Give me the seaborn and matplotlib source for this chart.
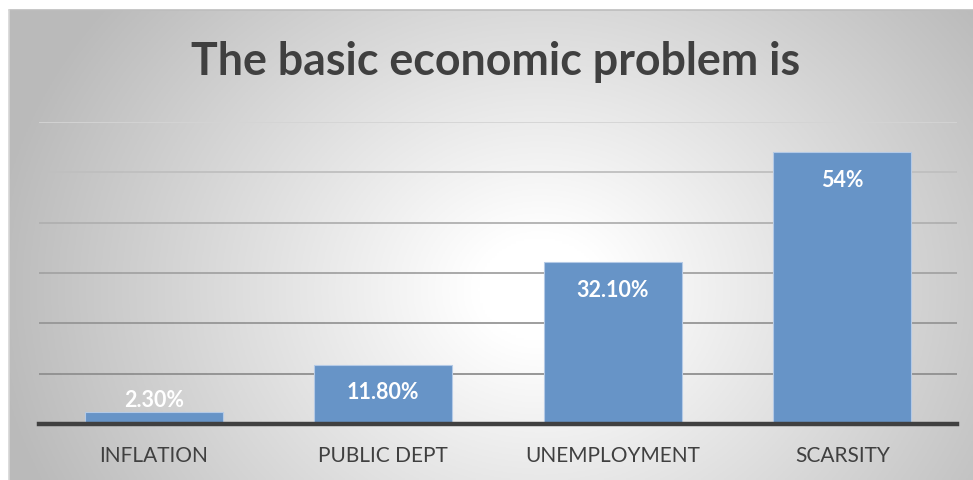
import numpy as np
import pandas as pd
import matplotlib
matplotlib.use("Agg")
import matplotlib.pyplot as plt
import seaborn as sns

categories = ["INFLATION", "PUBLIC DEPT", "UNEMPLOYMENT", "SCARSITY"]
values = [2.3, 11.8, 32.1, 54.0]
value_labels = ["2.30%", "11.80%", "32.10%", "54%"]
title = "The basic economic problem is"

sns.set_theme(style="white")
plt.rcParams['font.family'] = ['Lato', 'DejaVu Sans']

W, H = 973, 480
fig = plt.figure(figsize=(W / 100, H / 100), dpi=100)
fig.patch.set_facecolor("white")

# chart area background with radial gradient
x0 = 9
y0 = 10
bg = fig.add_axes([x0 / W, 0, 1 - x0 / W, (H - y0) / H])
bx = np.linspace(x0, W, 400)
by = np.linspace(y0, H, 200)
X, Y = np.meshgrid(bx, by)
t = np.sqrt(((X - 540) / 520) ** 2 + ((Y - 290) / 440) ** 2)
g = 255 - 62 * np.clip((t - 0.12) / 0.85, 0, 1.1)
img = np.dstack([g, g, g]) / 255.0
bg.imshow(img, extent=[0, 1, 0, 1], aspect="auto", origin="upper")
bg.set_xlim(0, 1)
bg.set_ylim(0, 1)
bg.axis("off")
# border on top/left
bg.plot([0, 1], [1, 1], color="#bdbdbd", lw=1.2, transform=bg.transAxes, clip_on=False)
bg.plot([0, 0], [0, 1], color="#d6d6d6", lw=1.2, transform=bg.transAxes, clip_on=False)

ax = fig.add_axes([39 / W, (H - 424) / H, (957 - 39) / W, (424 - 122) / H])
ax.patch.set_alpha(0)
df = pd.DataFrame({"cat": categories, "val": values})
sns.barplot(data=df, x="cat", y="val", color="#6794C7", saturation=1, width=0.6,
            edgecolor="#b4cae6", linewidth=0.8, ax=ax, zorder=3)
ax.set_ylim(0, 60)
ax.set_yticks([10, 20, 30, 40, 50, 60])
ax.set_yticklabels([])
ax.tick_params(axis="y", length=0)
ax.grid(axis="y", lw=1.3, zorder=0)
gl_colors = ["#8f8f8f", "#969696", "#a3a3a3", "#b0b0b0", "#bfbfbf", "#d4d4d4"]
for line, c in zip(ax.get_ygridlines(), gl_colors):
    line.set_color(c)
ax.set_xlabel("")
ax.set_ylabel("")
for s in ["top", "right", "left"]:
    ax.spines[s].set_visible(False)
ax.spines["bottom"].set_color("#404040")
ax.spines["bottom"].set_linewidth(3.2)
ax.spines["bottom"].set_zorder(5)
ax.tick_params(axis="x", length=0, pad=16, labelsize=15, labelcolor="#404040")

for i, (v, lab) in enumerate(zip(values, value_labels)):
    if v < 5:
        ax.annotate(lab, (i, v), xytext=(0, 12), textcoords="offset pixels",
                    ha="center", va="center", color="white", fontsize=15.5,
                    fontweight="bold", zorder=6)
    else:
        ax.annotate(lab, (i, v), xytext=(0, -28), textcoords="offset pixels",
                    ha="center", va="center", color="white", fontsize=15.5,
                    fontweight="bold", zorder=6)

fig.text(496 / W, (H - 75) / H, title, ha="center", va="baseline",
         fontsize=32.2, fontweight="bold", color="#404040")

fig.savefig("out.png", dpi=100)
